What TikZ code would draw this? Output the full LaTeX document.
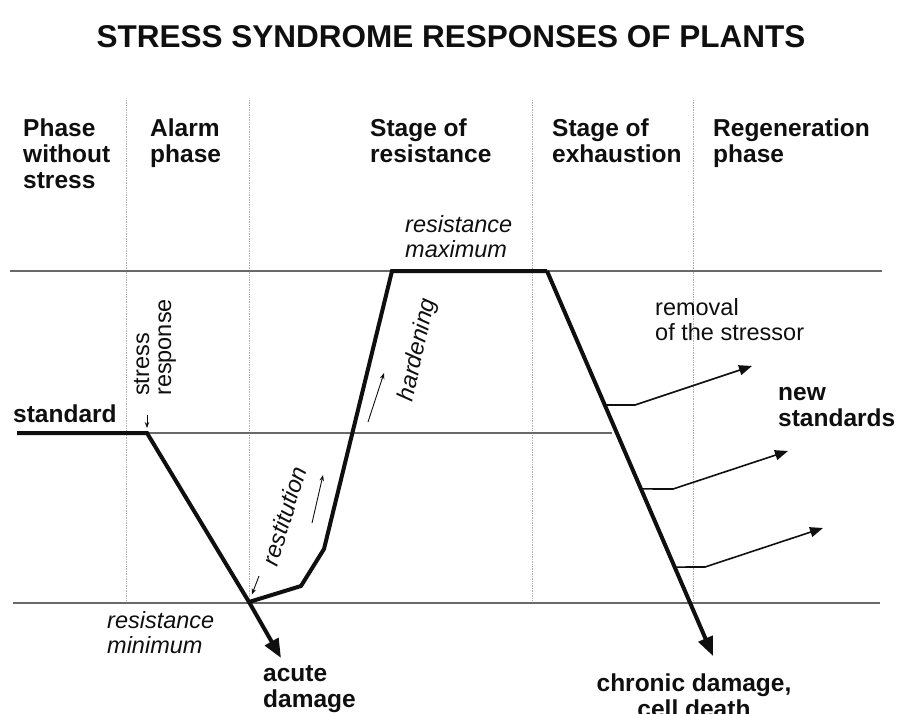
\documentclass[tikz,border=0pt]{standalone}
\usepackage{fontspec}
\setmainfont{Liberation Sans}
\usetikzlibrary{positioning,arrows.meta,calc}
\definecolor{Ink}{RGB}{15,15,15}
\definecolor{Rule}{RGB}{105,105,105}
\definecolor{Guide}{RGB}{175,175,175}

\begin{document}
\begin{tikzpicture}[x=1pt,y=-1pt,
    phase/.style={anchor=base west,align=left,inner sep=0pt,text=Ink,font=\bfseries\fontsize{24.5}{26}\selectfont},
    note/.style={anchor=base west,align=left,inner sep=0pt,text=Ink,font=\fontsize{23.5}{25}\selectfont},
    slant/.style={anchor=base west,align=left,inner sep=0pt,text=Ink,font=\itshape\fontsize{23.5}{25}\selectfont},
    guide/.style={Guide,line width=0.7pt,densely dotted},
    level/.style={Rule,line width=1.1pt},
    curve/.style={Ink,line width=4pt,line join=miter},
    bigarrow/.style={curve,-{Triangle[length=19pt,width=15pt]}},
    branch/.style={Ink,line width=1.6pt,-{Triangle[length=13pt,width=10pt]}},
    tick/.style={Ink,line width=0.9pt,-{Stealth[length=6pt,width=4.5pt]}}
]
\useasboundingbox (0,0) rectangle (903,713);

\node[font=\bfseries\fontsize{31.5}{34}\selectfont,text=Ink] (title) at (451,36.5) {STRESS SYNDROME RESPONSES OF PLANTS};

% phase headers (base = last line)
\node[phase] (ph1) at (23,188) {Phase\\without\\stress};
\node[phase] (ph2) at (150,162) {Alarm\\phase};
\node[phase] (ph3) at (370,162) {Stage of\\resistance};
\node[phase] (ph4) at (552,162) {Stage of\\exhaustion};
\node[phase] (ph5) at (713,162) {Regeneration\\phase};

% phase borders
\draw[guide] (126,100) -- (126,603);
\draw[guide] (249,100) -- (249,603);
\draw[guide] (532,100) -- (532,603);
\draw[guide] (693,100) -- (693,603);

% reference levels
\coordinate (maxL) at (10,271);
\coordinate (maxR) at (882,271);
\coordinate (stdL) at (17,433);
\coordinate (stdR) at (612,433);
\coordinate (minL) at (13,603);
\coordinate (minR) at (880,603);
\draw[level] (maxL) -- (maxR);
\draw[level] (stdL) -- (stdR);
\draw[level] (minL) -- (minR);

% response curve
\coordinate (std1) at (147,433);
\coordinate (rmin) at (249,602);
\coordinate (acute) at (281,658);
\coordinate (rest1) at (301,586);
\coordinate (rest2) at (324,549);
\coordinate (rmax1) at (392,271);
\coordinate (rmax2) at (547,271);
\coordinate (chron) at (713,656);

\draw[curve] (stdL) -- (std1) -- (rmin) -- (rest1) -- (rest2) -- (rmax1) -- (rmax2);
\draw[bigarrow] (rmax2) -- (chron);
\draw[bigarrow] (rmin) -- (acute);

% removal of the stressor
\coordinate (b1) at ($(rmax2)!0.348!(chron)$);
\coordinate (b2) at ($(rmax2)!0.566!(chron)$);
\coordinate (b3) at ($(rmax2)!0.769!(chron)$);
\coordinate (k1) at (635,405);
\coordinate (k2) at (673,489);
\coordinate (k3) at (705,567);
\coordinate (t1) at (752,366);
\coordinate (t2) at (788,451);
\coordinate (t3) at (823,528);
\draw[branch] (b1) -- (k1) -- (t1);
\draw[branch] (b2) -- (k2) -- (t2);
\draw[branch] (b3) -- (k3) -- (t3);

% small arrows
\coordinate (sr) at (147,415);
\coordinate (hd0) at (368,422);
\coordinate (hd1) at (384,373);
\coordinate (rs0) at (312,523);
\coordinate (rs1) at (323,475);
\coordinate (rm0) at (259,576);
\draw[tick,shorten >=5pt] (sr) -- (std1);
\draw[tick] (hd0) -- (hd1);
\draw[tick] (rs0) -- (rs1);
\draw[tick,shorten >=8pt] (rm0) -- (rmin);

% labels
\node[phase] (stdlbl) at (13,422) {standard};
\node[note,rotate=90] (stress) at (149,396) {stress};
\node[note,rotate=90] (resp) at (171,396) {response};
\node[slant] (rmaxlbl) at (405,257) {resistance\\maximum};
\node[slant,anchor=center,rotate=77] (hard) at (418,350) {hardening};
\node[slant,anchor=center,rotate=73] (restit) at (284,516) {restitution};
\node[slant] (rminlbl) at (107,653) {resistance\\minimum};
\node[phase] (acutelbl) at (263,707) {acute\\damage};
\node[note] (removal) at (655,340) {removal\\of the stressor};
\node[phase] (newstd) at (778,426) {new\\standards};
\node[phase,align=center,anchor=base] (chronlbl) at (694,717) {chronic damage,\\cell death};

\end{tikzpicture}
\end{document}
